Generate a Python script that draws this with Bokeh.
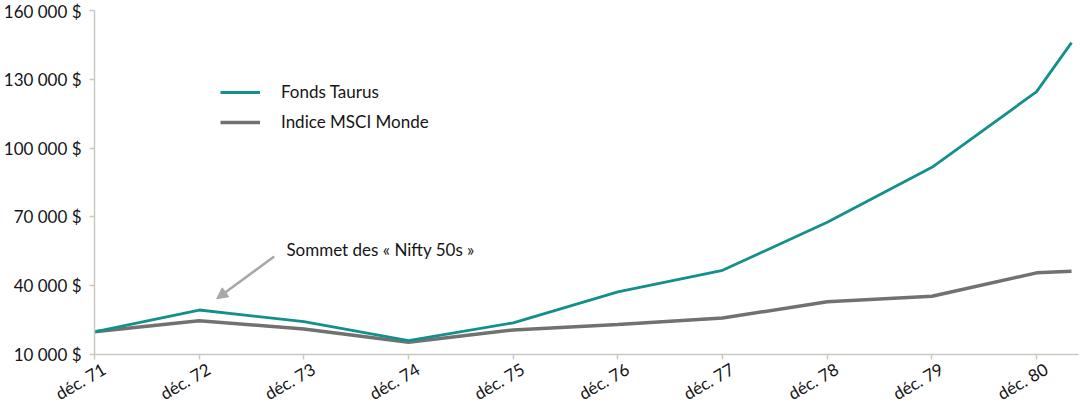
from bokeh.plotting import figure
from bokeh.models import ColumnDataSource, FixedTicker, Range1d, Legend, LegendItem, Arrow, NormalHead, Label
from bokeh.embed import file_html
from bokeh.resources import INLINE
import math

# Data
dates = ["1971-12", "1972-12", "1973-12", "1974-12", "1975-12", "1976-12",
         "1977-12", "1978-12", "1979-12", "1980-12", "1981-04"]
taurus = [19900, 29400, 24300, 16000, 23800, 37300, 46700, 67700, 91600, 124600, 146000]
msci = [19900, 24700, 21100, 15300, 20700, 23100, 25900, 33000, 35400, 45600, 46300]
tick_labels = ["déc. 71", "déc. 72", "déc. 73", "déc. 74", "déc. 75",
               "déc. 76", "déc. 77", "déc. 78", "déc. 79", "déc. 80"]
y_ticks = [10000, 40000, 70000, 100000, 130000, 160000]

# months since Dec 1971
months = [(int(d[:4]) - 1971) * 12 + int(d[5:]) - 12 for d in dates]
tick_months = months[:len(tick_labels)]

source = ColumnDataSource(data=dict(m=months, taurus=taurus, msci=msci))

FONT = "Lato"
TEAL = "#14908c"
GREY = "#717171"
AXIS = "#c9c9c1"
TXT = "#151515"

p = figure(width=1080, height=416, output_backend="svg", toolbar_location=None,
           x_range=Range1d(0, 112.8), y_range=Range1d(10000, 160000),
           min_border_top=10, min_border_bottom=62, min_border_right=2, min_border_left=10)
p.outline_line_color = None
p.grid.grid_line_color = None
p.background_fill_color = None
p.border_fill_color = None

r_msci = p.line("m", "msci", source=source, line_color=GREY, line_width=3.5)
r_taurus = p.line("m", "taurus", source=source, line_color=TEAL, line_width=2.8)

# Axes
p.yaxis.ticker = FixedTicker(ticks=y_ticks)
p.yaxis.major_label_overrides = {v: f"{v:,} $".replace(",", " ") for v in y_ticks}

for ax in (p.xaxis, p.yaxis):
    ax.axis_line_color = AXIS
    ax.axis_line_width = 1.5
    ax.major_tick_line_color = AXIS
    ax.major_tick_line_width = 1.5
    ax.major_tick_out = 5
    ax.major_tick_in = 0
    ax.minor_tick_line_color = None
    ax.major_label_text_font = FONT
    ax.major_label_text_font_size = "17px"
    ax.major_label_text_color = TXT
p.yaxis.major_label_standoff = 8

# x: visible tick marks are the minor ticks at each December; the labels sit on
# invisible major ticks nudged right so that each rotated label ends at its tick
shift = 1.1
label_ticks = [m + shift for m in tick_months]
p.xaxis.ticker = FixedTicker(ticks=label_ticks, minor_ticks=tick_months)
p.xaxis.major_label_overrides = {t: lab for t, lab in zip(label_ticks, tick_labels)}
p.xaxis.major_tick_line_color = None
p.xaxis.major_tick_out = 0
p.xaxis.minor_tick_line_color = AXIS
p.xaxis.minor_tick_line_width = 1.5
p.xaxis.minor_tick_out = 5
p.xaxis.minor_tick_in = 0
p.xaxis.major_label_orientation = math.pi / 6
p.xaxis.major_label_standoff = 8

# Legend
legend = Legend(items=[LegendItem(label="Fonds Taurus", renderers=[r_taurus]),
                       LegendItem(label="Indice MSCI Monde", renderers=[r_msci])],
                location=(126, 222), orientation="vertical",
                glyph_width=40, glyph_height=20, label_height=20, spacing=9,
                label_standoff=21, padding=0, margin=0,
                border_line_color=None, background_fill_color=None,
                label_text_font=FONT, label_text_font_size="17px", label_text_color=TXT)
p.add_layout(legend)

# Annotation
p.add_layout(Arrow(end=NormalHead(size=11, fill_color="#a8a8a8", line_color="#a8a8a8"),
                   x_start=20.6, y_start=52700, x_end=14.0, y_end=34300,
                   line_color="#a8a8a8", line_width=2.5))
p.add_layout(Label(x=22.0, y=55800, text="Sommet des « Nifty 50s »", text_font=FONT,
                   text_font_size="17px", text_color=TXT, text_baseline="middle"))

open("out.html", "w").write(file_html(p, INLINE))
